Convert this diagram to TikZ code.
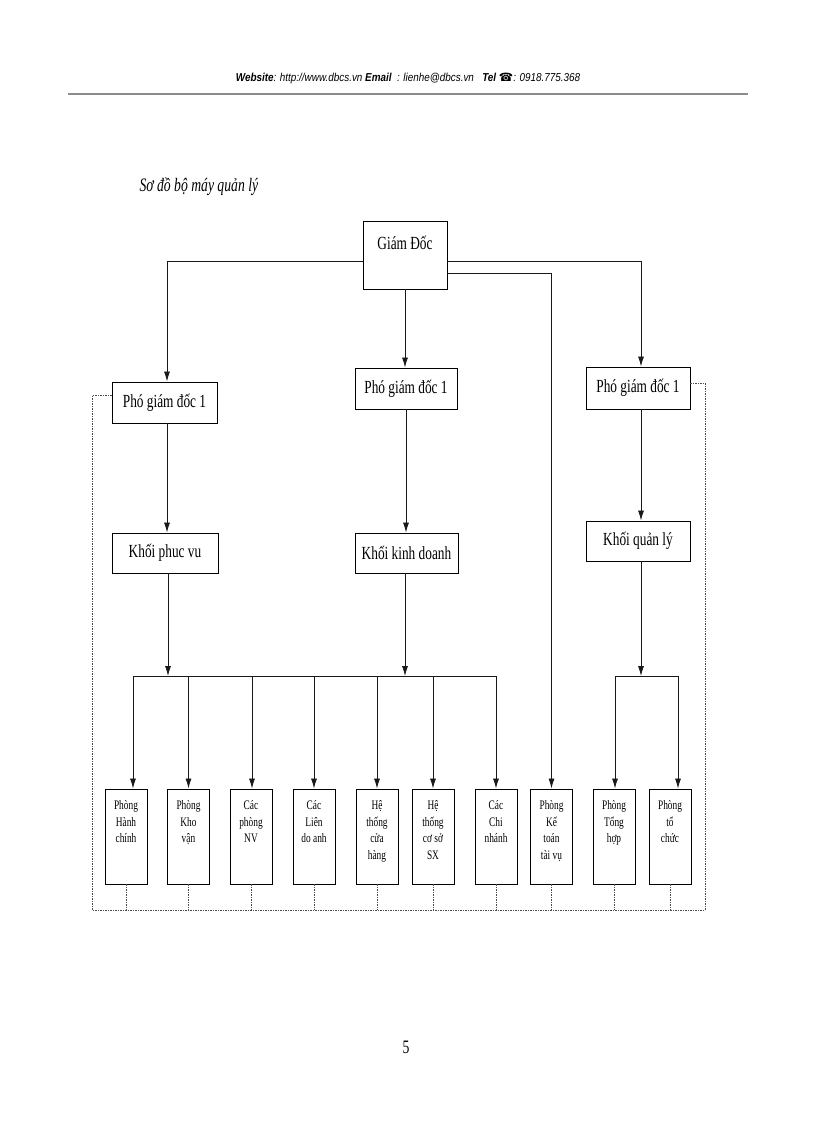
\documentclass[tikz,border=0pt]{standalone}
\usepackage{fontspec}
\setmainfont{Liberation Serif}[FakeStretch=0.72]
\newfontfamily\hdrfont{Liberation Sans}[FakeStretch=0.86]
\newfontfamily\symfont{DejaVu Sans}
\usetikzlibrary{arrows.meta}
\begin{document}
\begin{tikzpicture}[x=1pt,y=-1pt,
  line/.style={line width=0.8pt, draw=black!90},
  arr/.style={line, -{Latex[length=10pt,width=6pt]}},
  bigbox/.style={draw, line width=0.95pt, inner sep=0pt, minimum height=41pt, font=\fontsize{18.5}{20}\selectfont},
  smallbox/.style={draw, line width=0.95pt, inner sep=0pt, minimum width=42pt, minimum height=95pt},
  stxt/.style={font=\fontsize{13}{16.5}\selectfont, align=center, inner sep=0pt, anchor=north, yshift=-12pt},
  dotline/.style={line width=0.6pt, draw=black!70, dash pattern=on 1.5pt off 1pt}
]
\useasboundingbox[fill=white] (0,0) rectangle (816,1123);

% header
\node[font=\hdrfont\fontsize{11.5}{13}\selectfont\itshape] (hdr) at (408,79)
  {\textbf{Website}: http://www.dbcs.vn \textbf{Email}~ : lienhe@dbcs.vn~~ \textbf{Tel} {\symfont\bfseries ☎}: 0918.775.368};
\draw[black!45, line width=1.3pt] (68,94) -- (748,94);

% title
\node[anchor=west, font=\itshape\fontsize{19}{21}\selectfont] (title) at (136,187) {Sơ đồ bộ máy quản lý};

% top
\node[bigbox, minimum width=84pt, minimum height=68pt,
  label={[font=\fontsize{18.5}{20}\selectfont, anchor=center, yshift=12pt]center:Giám Đốc}] (gd) at (405,255) {};

% deputies
\node[bigbox, minimum width=105pt] (pgd1) at (164.5,402.5) {Phó giám đốc 1};
\node[bigbox, minimum width=102pt] (pgd2) at (406,388.5) {Phó giám đốc 1};
\node[bigbox, minimum width=104pt, minimum height=42pt] (pgd3) at (638,388) {Phó giám đốc 1};

% blocks
\node[bigbox, minimum width=106pt, minimum height=40pt] (k1) at (165,553) {Khối phuc vu};
\node[bigbox, minimum width=103pt, minimum height=40pt] (k2) at (406.5,553) {Khối kinh doanh};
\node[bigbox, minimum width=104pt, minimum height=40pt] (k3) at (638,541) {Khối quản lý};

% bottom boxes
\node[smallbox, label={[stxt]north:{Phòng\\Hành\\chính}}] (b1) at (126,836.5) {};
\node[smallbox, label={[stxt]north:{Phòng\\Kho\\vận}}] (b2) at (188.5,836.5) {};
\node[smallbox, label={[stxt]north:{Các\\phòng\\NV}}] (b3) at (251,836.5) {};
\node[smallbox, label={[stxt]north:{Các\\Liên\\do anh}}] (b4) at (314,836.5) {};
\node[smallbox, label={[stxt]north:{Hệ\\thống\\cửa\\hàng}}] (b5) at (377,836.5) {};
\node[smallbox, label={[stxt]north:{Hệ\\thống\\cơ sở\\SX}}] (b6) at (433,836.5) {};
\node[smallbox, label={[stxt]north:{Các\\Chi\\nhánh}}] (b7) at (496,836.5) {};
\node[smallbox, label={[stxt]north:{Phòng\\Kế\\toán\\tài vụ}}] (b8) at (551.5,836.5) {};
\node[smallbox, label={[stxt]north:{Phòng\\Tổng\\hợp}}] (b9) at (614,836.5) {};
\node[smallbox, label={[stxt]north:{Phòng\\tổ\\chức}}] (b10) at (670,836.5) {};

% page number
\node[font=\fontsize{19}{21}\selectfont] (pg) at (406,1047) {5};

% connectors from director
\draw[arr] ([yshift=-6pt]gd.west) -| ([xshift=2.5pt]pgd1.north);
\draw[arr] ([yshift=-6pt]gd.east) -| ([xshift=3pt]pgd3.north);
\draw[arr] ([yshift=-18pt]gd.east) -| (b8.north);
\draw[arr] (gd.south) -- (gd.south |- pgd2.north);

% deputies to blocks
\draw[arr] ([xshift=2.5pt]pgd1.south) -- ([xshift=2.5pt]pgd1.south |- k1.north);
\draw[arr] (pgd2.south) -- (pgd2.south |- k2.north);
\draw[arr] ([xshift=3pt]pgd3.south) -- ([xshift=3pt]pgd3.south |- k3.north);

% buses
\coordinate (busL) at (133,676);
\coordinate (busR) at (496,676);
\draw[line] (busL) -- (busR);
\draw[arr] ([xshift=3pt]k1.south) -- ([xshift=3pt]k1.south |- busL);
\draw[arr] ([xshift=-1.5pt]k2.south) -- ([xshift=-1.5pt]k2.south |- busL);
\foreach \b/\dx in {b1/7,b2/0,b3/1,b4/0,b5/0,b6/0,b7/0}
  \draw[arr] ([xshift=\dx pt]\b.north |- busL) -- ([xshift=\dx pt]\b.north);
\draw[line] ([xshift=1pt]b9.north |- busL) -- ([xshift=8pt]b10.north |- busL);
\draw[arr] ([xshift=3pt]k3.south) -- ([xshift=3pt]k3.south |- busL);
\draw[arr] ([xshift=1pt]b9.north |- busL) -- ([xshift=1pt]b9.north);
\draw[arr] ([xshift=8pt]b10.north |- busL) -- ([xshift=8pt]b10.north);

% dotted feedback frame
\coordinate (dl) at (92,910);
\coordinate (dr) at (705,910);
\draw[dotline] ([yshift=7pt]pgd1.west) -| (dl) -- (dr) |- ([yshift=5pt]pgd3.east);
\foreach \b in {b1,b2,b3,b4,b5,b6,b7,b8,b9,b10}
  \draw[dotline] (\b.south) -- (\b.south |- dl);
\end{tikzpicture}
\end{document}
